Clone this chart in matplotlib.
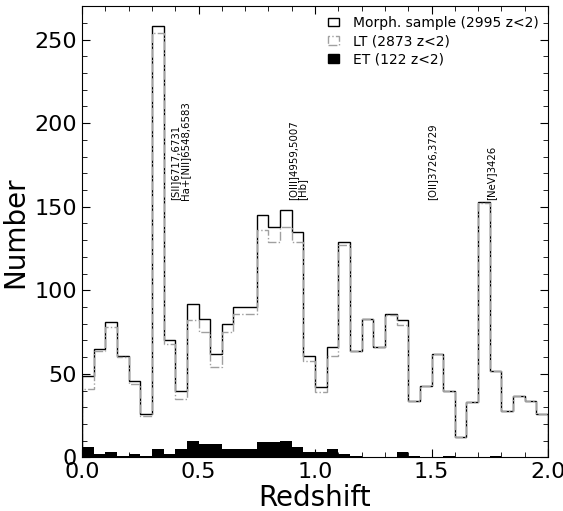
import numpy as np
import matplotlib
matplotlib.use("Agg")
import matplotlib.pyplot as plt
from matplotlib.patches import Patch
from matplotlib.ticker import MultipleLocator, FormatStrFormatter

# redshift histograms, bins of 0.05 between z=0 and z=2
bin_edges = np.linspace(0.0, 2.0, 41)

morph_counts = [49, 65, 81, 61, 46, 26, 258, 70, 40, 92,
                83, 62, 80, 90, 90, 145, 138, 148, 135, 61,
                42, 66, 129, 64, 83, 66, 86, 82, 34, 43,
                62, 40, 12, 33, 153, 52, 28, 37, 34, 26]
lt_counts = [41, 64, 78, 60, 44, 25, 254, 68, 35, 82,
             75, 54, 75, 86, 86, 136, 129, 138, 129, 58,
             39, 61, 127, 64, 83, 66, 85, 79, 34, 43,
             62, 40, 12, 33, 152, 52, 28, 37, 34, 26]
et_counts = [6, 2, 3, 1, 2, 1, 5, 2, 5, 10,
             8, 8, 5, 5, 5, 9, 9, 10, 6, 3,
             3, 5, 2, 1, 0, 0, 0, 3, 1, 0,
             0, 1, 0, 0, 0, 1, 0, 0, 0, 0]

labels = ["Morph. sample (2995 z<2)", "LT (2873 z<2)", "ET (122 z<2)"]

lines = [(0.378, "[SII]6717,6731\nHa+[NII]6548,6583"),
         (0.884, "[OIII]4959,5007\n[Hb]"),
         (1.48, "[OII]3726,3729"),
         (1.735, "[NeV]3426")]

lt_color = "#a0a0a0"

fig = plt.figure(figsize=(5.63, 5.11), dpi=100)
ax = fig.add_axes([0.1457, 0.1047, 0.8277, 0.8833])

ax.stairs(morph_counts, bin_edges, color="black", lw=1.0)
ax.stairs(lt_counts, bin_edges, color=lt_color, lw=1.0, ls="-.")
ax.stairs(et_counts, bin_edges, fill=True, color="black")

for x, txt in lines:
    ax.text(x, 154, txt, rotation=90, fontsize=7.3, ha="left", va="bottom",
            linespacing=0.95)

ax.set_xlim(0, 2)
ax.set_ylim(0, 270)
ax.xaxis.set_major_locator(MultipleLocator(0.5))
ax.xaxis.set_minor_locator(MultipleLocator(0.1))
ax.xaxis.set_major_formatter(FormatStrFormatter("%.1f"))
ax.yaxis.set_major_locator(MultipleLocator(50))
ax.yaxis.set_minor_locator(MultipleLocator(10))
ax.tick_params(which="both", direction="in", top=True, right=True, labelsize=16)
ax.tick_params(which="major", length=6)
ax.tick_params(which="minor", length=3.5)

ax.set_xlabel("Redshift", fontsize=20, labelpad=1)
ax.set_ylabel("Number", fontsize=20, labelpad=4)

handles = [Patch(facecolor="white", edgecolor="black", lw=1.0),
           Patch(facecolor="white", edgecolor=lt_color, lw=1.0, ls="-."),
           Patch(facecolor="black", edgecolor="black")]
ax.legend(handles, labels, loc="upper right", frameon=False, fontsize=10,
          handlelength=0.8, handleheight=0.6, handletextpad=1.0,
          borderaxespad=0.3, labelspacing=0.3)

fig.savefig("out.png", dpi=100)
